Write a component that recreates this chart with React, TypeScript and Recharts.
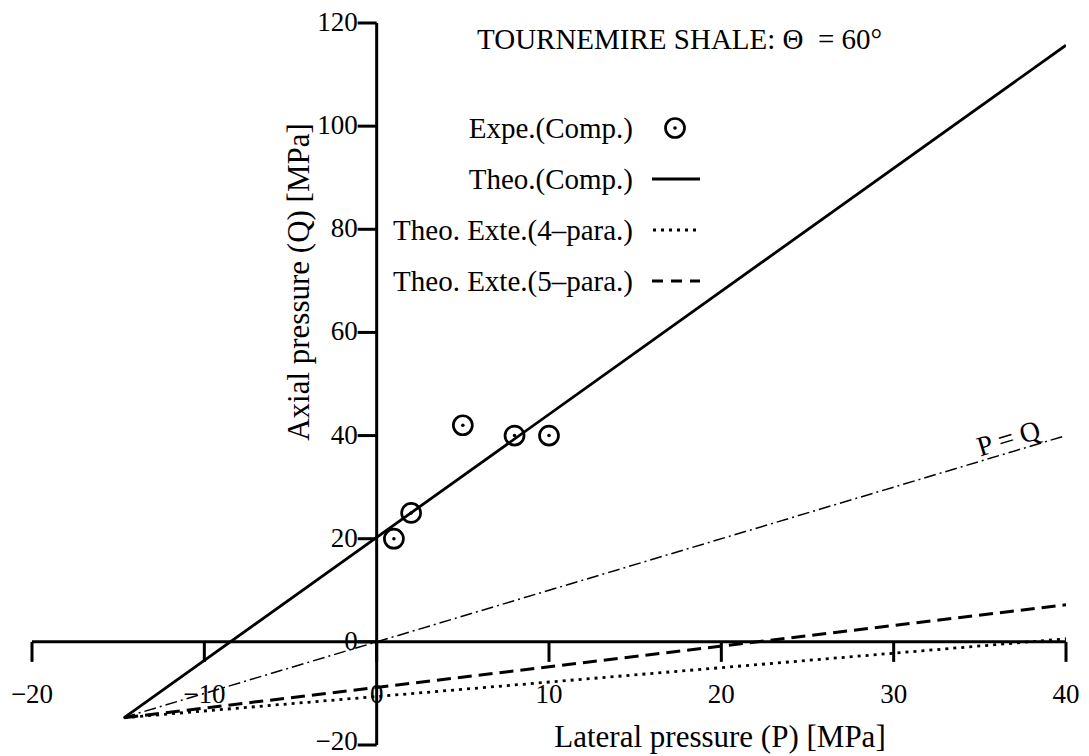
import {
  ComposedChart, Line, Scatter, XAxis, YAxis, ReferenceLine, ReferenceDot,
  Legend, Customized,
} from 'recharts';

const FONT = '"Liberation Serif", "Times New Roman", serif';

const W = 1089;
const H = 756;
const M = { top: 23, right: 23, bottom: 11, left: 32 };
const X_DOMAIN = [-20, 40];
const Y_DOMAIN = [-20, 120];

const X_TICKS = [-20, -10, 0, 10, 20, 30, 40];
const Y_TICKS = [-20, 0, 20, 40, 60, 80, 100, 120];

// experimental points (compression)
const EXP_P = [1, 2, 5, 8, 10];
const EXP_Q = [20, 25, 42, 40, 40];

// theoretical lines, end points
const COMP_P = [-14.65, 40];
const COMP_Q = [-14.7, 115.7];
const EXT4_P = [-14.65, 40];
const EXT4_Q = [-14.7, 0.6];
const EXT5_P = [-14.65, 40];
const EXT5_Q = [-14.7, 7.2];
const PQ_P = [-14.7, 40];
const PQ_Q = [-14.7, 40];

const LEGEND_LABELS = ['Expe.(Comp.)', 'Theo.(Comp.)', 'Theo. Exte.(4\u2013para.)', 'Theo. Exte.(5\u2013para.)'];

const zip = (xs: number[], ys: number[]) => xs.map((x, i) => ({ x, y: ys[i] }));

const fmt = (v: number) => (v < 0 ? '\u2212' + Math.abs(v) : String(v));

// tick on the x axis (axis runs through y = 0), drawn at the dot's position
function XTickMark({ cx, cy, value }: any) {
  return (
    <g>
      <line x1={cx} x2={cx} y1={cy} y2={cy + 20} stroke="#000" strokeWidth={3} />
      <text x={cx} y={cy + 52} textAnchor="middle" dominantBaseline="central"
        fontSize={27} fontFamily={FONT} fill="#000">{fmt(value)}</text>
    </g>
  );
}

function YTickMark({ cx, cy, value }: any) {
  // keep the lowest label inside the picture
  const ty = Math.min(cy - 1, H - 15);
  return (
    <g>
      <line x1={cx - 19} x2={cx} y1={cy} y2={cy} stroke="#000" strokeWidth={3} />
      <text x={cx - 19} y={ty} textAnchor="end" dominantBaseline="central"
        fontSize={27} fontFamily={FONT} fill="#000">{fmt(value)}</text>
    </g>
  );
}

function Ring(props: any) {
  const { cx, cy } = props;
  return (
    <g>
      <circle cx={cx} cy={cy} r={9.5} fill="none" stroke="#000" strokeWidth={2.7} />
      <circle cx={cx} cy={cy} r={1.8} fill="#000" />
    </g>
  );
}

function PQLabel(props: any) {
  const { cx, cy } = props;
  return (
    <text x={cx} y={cy} dy={-14} transform={`rotate(-16.66 ${cx} ${cy})`}
      textAnchor="middle" dominantBaseline="central" fontSize={28} fontFamily={FONT} fill="#000">
      P = Q
    </text>
  );
}

function Titles() {
  return (
    <g fontFamily={FONT} fill="#000">
      <text x={477} y={39} dominantBaseline="central" fontSize={29}>
        {'TOURNEMIRE SHALE: \u0398\u00A0\u00A0= 60\u00B0'}
      </text>
      <text x={720} y={736} textAnchor="middle" dominantBaseline="central" fontSize={31}>
        Lateral pressure (P) [MPa]
      </text>
      <text x={298} y={282} transform="rotate(-90 298 282)" textAnchor="middle"
        dominantBaseline="central" fontSize={31}>
        Axial pressure (Q) [MPa]
      </text>
    </g>
  );
}

function LegendBox() {
  const rowY = (i: number) => 28 + i * 51;
  return (
    <svg width={430} height={210} style={{ overflow: 'visible' }}>
      {LEGEND_LABELS.map((l, i) => (
        <text key={l} x={343} y={rowY(i)} textAnchor="end" dominantBaseline="central"
          fontSize={29} fontFamily={FONT} fill="#000">{l}</text>
      ))}
      <circle cx={385} cy={rowY(0)} r={9.5} fill="none" stroke="#000" strokeWidth={2.7} />
      <circle cx={385} cy={rowY(0)} r={1.8} fill="#000" />
      <line x1={362} x2={410} y1={rowY(1)} y2={rowY(1)} stroke="#000" strokeWidth={3} />
      <line x1={363} x2={410} y1={rowY(2)} y2={rowY(2)} stroke="#000" strokeWidth={3} strokeDasharray="3 5" />
      <line x1={362} x2={410} y1={rowY(3)} y2={rowY(3)} stroke="#000" strokeWidth={3} strokeDasharray="11 8" />
    </svg>
  );
}

export default function App() {
  return (
    <div style={{ position: 'absolute', left: 0, top: 0, width: W, height: H, background: '#fff' }}>
      <ComposedChart width={W} height={H} margin={M}>
        <XAxis type="number" dataKey="x" domain={X_DOMAIN} allowDataOverflow hide />
        <YAxis type="number" dataKey="y" domain={Y_DOMAIN} allowDataOverflow hide />
        <ReferenceLine y={0} stroke="#000" strokeWidth={3} />
        <ReferenceLine x={0} stroke="#000" strokeWidth={3} />
        {X_TICKS.map((t) => (
          <ReferenceDot key={'x' + t} x={t} y={0} r={0} ifOverflow="visible"
            shape={(p: any) => <XTickMark {...p} value={t} />} />
        ))}
        {Y_TICKS.map((t) => (
          <ReferenceDot key={'y' + t} x={0} y={t} r={0} ifOverflow="visible"
            shape={(p: any) => <YTickMark {...p} value={t} />} />
        ))}
        <Line data={zip(PQ_P, PQ_Q)} dataKey="y" type="linear" stroke="#000" strokeWidth={1.5}
          strokeDasharray="12 4 2 4" dot={false} activeDot={false} isAnimationActive={false} />
        <Line data={zip(EXT4_P, EXT4_Q)} dataKey="y" type="linear" stroke="#000" strokeWidth={2.8}
          strokeDasharray="3 5" dot={false} activeDot={false} isAnimationActive={false} />
        <Line data={zip(EXT5_P, EXT5_Q)} dataKey="y" type="linear" stroke="#000" strokeWidth={3}
          strokeDasharray="14 7" dot={false} activeDot={false} isAnimationActive={false} />
        <Line data={zip(COMP_P, COMP_Q)} dataKey="y" type="linear" stroke="#000" strokeWidth={2.8}
          dot={false} activeDot={false} isAnimationActive={false} />
        <Scatter data={zip(EXP_P, EXP_Q)} shape={(p: any) => <Ring {...p} />} isAnimationActive={false} />
        <ReferenceDot x={36.9} y={36.9} r={0} shape={(p: any) => <PQLabel {...p} />} />
        <Customized component={Titles} />
        <Legend layout="vertical" align="center" verticalAlign="middle"
          wrapperStyle={{ left: 290, top: 100, width: 430, height: 210 }}
          content={() => <LegendBox />} />
      </ComposedChart>
    </div>
  );
}
